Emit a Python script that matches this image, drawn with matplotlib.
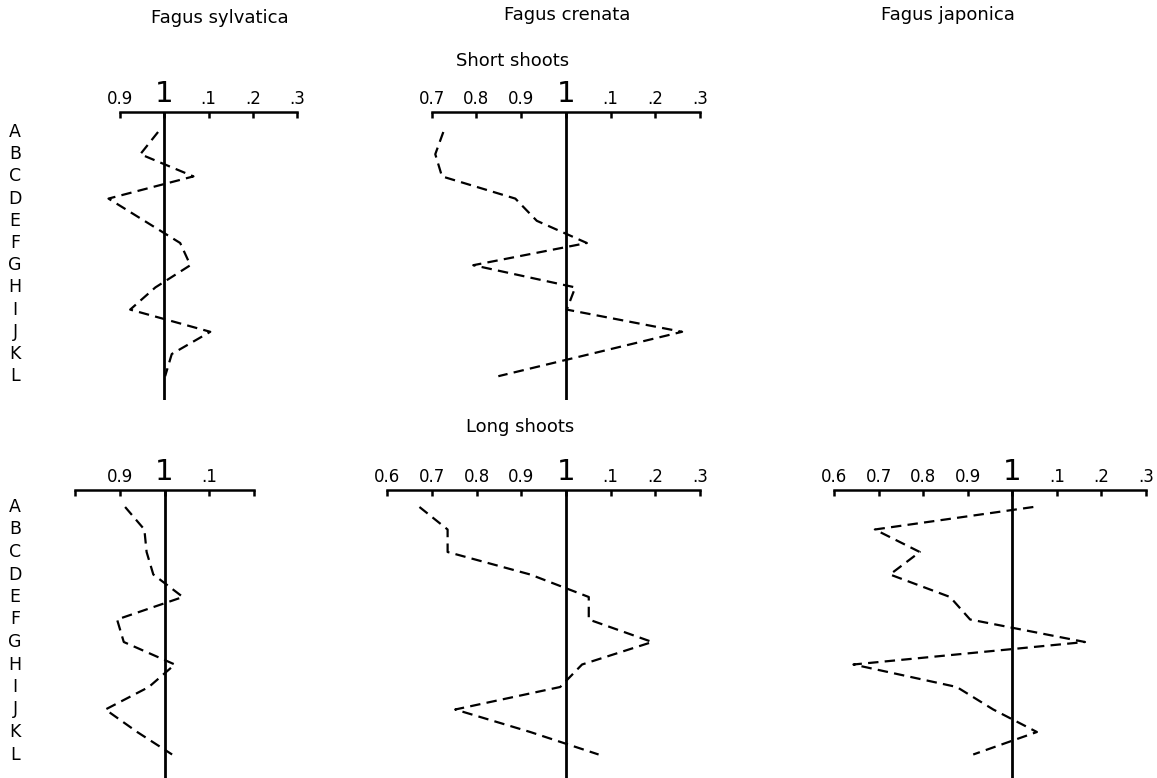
import matplotlib
matplotlib.use('Agg')
import matplotlib.pyplot as plt
import matplotlib.transforms as mtransforms

plt.rcParams['font.family'] = ['DejaVu Sans']
plt.rcParams['lines.scale_dashes'] = False

# ---------------- data ----------------
rows = list("ABCDEFGHIJKL")
species = ["Fagus sylvatica", "Fagus crenata", "Fagus japonica"]
shoot_types = ["Short shoots", "Long shoots"]

syl_short = [0.986, 0.946, 1.066, 0.874, 0.955, 1.036, 1.059, 0.980, 0.923, 1.104, 1.017, 1.002]
cren_short = [0.726, 0.708, 0.723, 0.887, 0.935, 1.047, 0.793, 1.021, 1.002, 1.260, 1.055, 0.849]
syl_long = [0.912, 0.955, 0.960, 0.975, 1.041, 0.894, 0.909, 1.023, 0.965, 0.868, 0.939, 1.017]
cren_long = [0.672, 0.735, 0.735, 0.920, 1.051, 1.051, 1.193, 1.036, 0.987, 0.752, 0.920, 1.073]
jap_long = [1.047, 0.691, 0.792, 0.725, 0.860, 0.905, 1.163, 0.643, 0.875, 0.957, 1.055, 0.912]

ticks_syl_short = [0.9, 1.0, 1.1, 1.2, 1.3]
labels_syl_short = ["0.9", "1", ".1", ".2", ".3"]
ticks_cren_short = [0.7, 0.8, 0.9, 1.0, 1.1, 1.2, 1.3]
labels_cren_short = ["0.7", "0.8", "0.9", "1", ".1", ".2", ".3"]
ticks_syl_long = [0.8, 0.9, 1.0, 1.1, 1.2]
labels_syl_long = ["", "0.9", "1", ".1", ""]
ticks_long = [0.6, 0.7, 0.8, 0.9, 1.0, 1.1, 1.2, 1.3]
labels_long = ["0.6", "0.7", "0.8", "0.9", "1", ".1", ".2", ".3"]

# ---------------- layout (pixels) ----------------
W, H = 1157, 778
fig = plt.figure(figsize=(W / 100, H / 100), dpi=100)
fig.patch.set_facecolor('white')

TOP = dict(ytop=111.7, ybot=400, yA=132, sp=22.2)
BOT = dict(ytop=490, ybot=778, yA=507, sp=22.5)


def add_panel(x0px, x1px, lay, ticks, labels, values):
    ytop, ybot, yA, sp = lay['ytop'], lay['ybot'], lay['yA'], lay['sp']
    ax = fig.add_axes([x0px / W, 1 - ybot / H, (x1px - x0px) / W, (ybot - ytop) / H])
    ax.set_xlim(ticks[0], ticks[-1])
    ax.set_ylim((ybot - yA) / sp, (ytop - yA) / sp)
    for s in ['left', 'right', 'bottom']:
        ax.spines[s].set_visible(False)
    ax.spines['top'].set_linewidth(1.8)
    ax.xaxis.tick_top()
    ax.set_xticks(ticks)
    ax.set_xticklabels(labels)
    ax.tick_params(axis='x', top=True, bottom=False, direction='in',
                   length=4, width=1.8, pad=3, labelsize=12)
    ax.set_yticks([])
    ax.patch.set_alpha(0)
    ax.axvline(1.0, color='black', lw=2.0)
    ax.plot(values, range(len(values)), color='black', lw=1.6,
            ls=(0, (7.5, 4.5)), clip_on=False)
    for t, lab in zip(ax.xaxis.get_major_ticks(), labels):
        if lab == "1":
            t.label2.set_fontsize(21)
    return ax


ax1 = add_panel(120, 297, TOP, ticks_syl_short, labels_syl_short, syl_short)
ax2 = add_panel(431.7, 700, TOP, ticks_cren_short, labels_cren_short, cren_short)
ax3 = add_panel(75, 254, BOT, ticks_syl_long, labels_syl_long, syl_long)
ax4 = add_panel(387.3, 700, BOT, ticks_long, labels_long, cren_long)
ax5 = add_panel(834.3, 1146, BOT, ticks_long, labels_long, jap_long)

# row letters
for ax in (ax1, ax3):
    tr = mtransforms.blended_transform_factory(fig.transFigure, ax.transData)
    for i, r in enumerate(rows):
        ax.text(15 / W, i, r, transform=tr, ha='center', va='center', fontsize=12.5)

# titles
for (x, y), name in zip([(220, 18), (567, 15), (948, 15)], species):
    fig.text(x / W, 1 - y / H, name, ha='center', va='center', fontsize=13)
fig.text(513 / W, 1 - 61 / H, shoot_types[0], ha='center', va='center', fontsize=13)
fig.text(520 / W, 1 - 427 / H, shoot_types[1], ha='center', va='center', fontsize=13)

fig.savefig('out.png', dpi=100, facecolor='white')
